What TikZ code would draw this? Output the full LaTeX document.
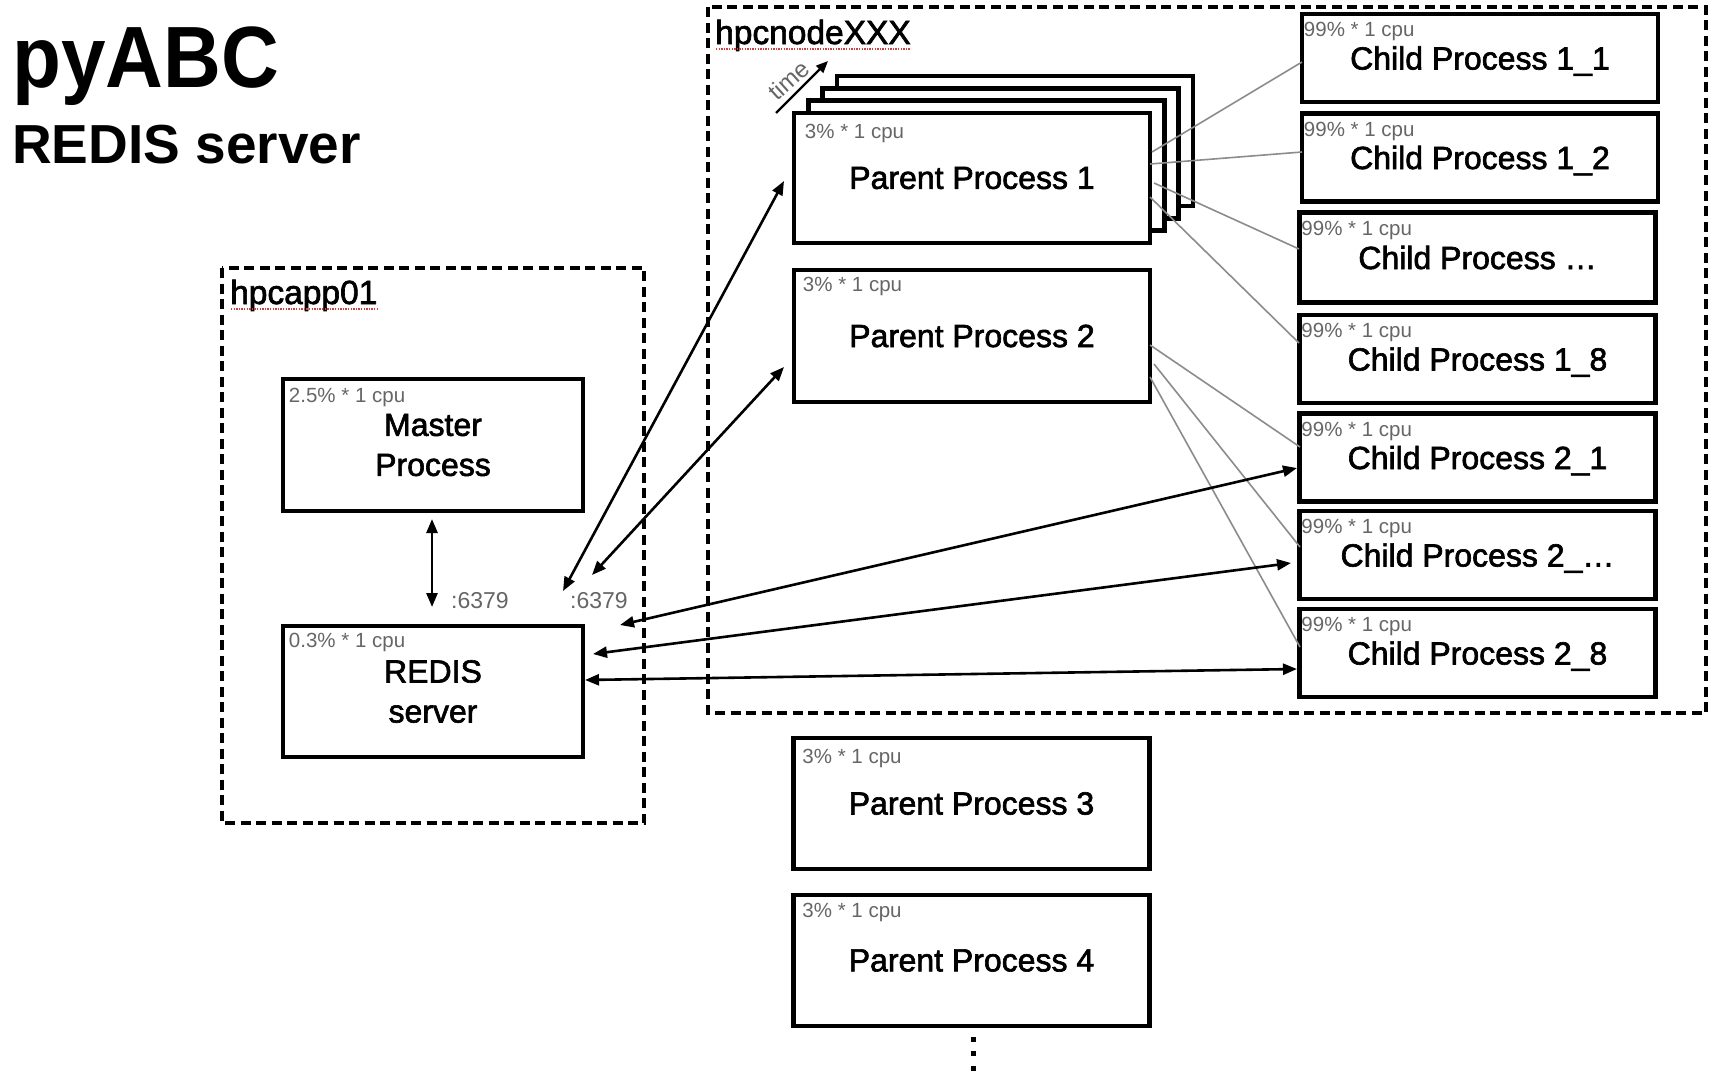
\documentclass[tikz,border=0pt]{standalone}
\usepackage{fontspec}
\setmainfont{Liberation Sans}
\newfontfamily\medfont[FakeBold=2]{Liberation Sans}
\usetikzlibrary{arrows.meta,calc}
\definecolor{lblgray}{HTML}{666666}
\definecolor{lingray}{HTML}{8C8C8C}
\definecolor{spellred}{HTML}{D04040}
\tikzset{
  procbox/.style={draw, line width=4.5pt, fill=white, inner sep=0pt,
    minimum width=356pt, align=center, font=\medfont\fontsize{32}{40}\selectfont},
  parentbox/.style={procbox, minimum height=130pt},
  childbox/.style={procbox, minimum height=88pt, text height=23pt, text depth=0pt},
  cpulbl/.style={anchor=base west, inner sep=0pt, text=lblgray, font=\fontsize{20.5}{22}\selectfont},
  portlbl/.style={anchor=base west, inner sep=0pt, text=lblgray, font=\fontsize{23}{24}\selectfont},
  hostlbl/.style={anchor=base west, inner sep=0pt, font=\medfont\fontsize{33.5}{36}\selectfont},
  hostframe/.style={line width=4.5pt, dash pattern=on 10pt off 5.5pt},
  spell/.style={spellred, line width=1.3pt, dash pattern=on 1.3pt off 1.3pt},
  link/.style={line width=2.6pt, {Triangle[length=14pt,width=11pt]}-{Triangle[length=14pt,width=11pt]}},
  onelink/.style={line width=2.2pt, -{Triangle[length=12pt,width=10pt]}},
  forkline/.style={lingray, line width=1.6pt},
}
\begin{document}
\begin{tikzpicture}[x=1pt,y=-1pt]
\useasboundingbox (0,0) rectangle (1716,1080);
\fill[white] (0,0) rectangle (1716,1080);

% titles
\node[anchor=base west, inner sep=0pt, font=\bfseries\fontsize{87}{87}\selectfont] (title) at (12,87) {\scalebox{0.92}[1]{pyABC}};
\node[anchor=base west, inner sep=0pt, font=\bfseries\fontsize{55}{55}\selectfont] (subtitle) at (12,163) {REDIS server};

% host frames
\draw[hostframe] (222,268) rectangle (644,823);
\draw[hostframe] (708,7) rectangle (1706,713);
\node[hostlbl] (happ) at (230,304) {hpcapp01};
\draw[spell] (231,309) -- (378,309);
\node[hostlbl] (hnode) at (715,44) {hpcnodeXXX};
\draw[spell] (716,49) -- (910,49);

% master / redis
\node[procbox, minimum width=300pt, minimum height=132pt] (master) at (433,445) {Master\\Process};
\node[cpulbl] (mastercpu) at ($(master.north west)+(8,26)$) {2.5\% * 1 cpu};
\node[procbox, minimum width=300pt, minimum height=131pt] (redis) at (433,691.5) {REDIS\\server};
\node[cpulbl] (rediscpu) at ($(redis.north west)+(8,24)$) {0.3\% * 1 cpu};

% parent process 1 stack
\foreach \k in {3,2,1} {
  \node[parentbox] (p1b\k) at ({972+14.3*\k},{178-12.3*\k}) {};
}
\node[parentbox] (p1) at (972,178) {Parent Process 1};
\node[cpulbl] (p1cpu) at ($(p1.north west)+(13,28)$) {3\% * 1 cpu};

\node[parentbox, minimum height=132pt] (p2) at (972,336) {Parent Process 2};
\node[cpulbl] (p2cpu) at ($(p2.north west)+(11,24)$) {3\% * 1 cpu};

\node[parentbox, minimum height=131pt] (p3) at (971.5,803.5) {Parent Process 3};
\node[cpulbl] (p3cpu) at ($(p3.north west)+(11,28)$) {3\% * 1 cpu};

\node[parentbox, minimum height=131pt] (p4) at (971.5,960.5) {Parent Process 4};
\node[cpulbl] (p4cpu) at ($(p4.north west)+(11,25)$) {3\% * 1 cpu};

\foreach \yy [count=\i] in {1039,1053.5,1068} {
  \fill (970.5,{\yy-2.5}) rectangle (975.5,{\yy+2.5});
}

% time arrow
\coordinate (t0) at (776,113);
\coordinate (t1) at (828,61);
\draw[onelink] (t0) -- (t1);
\node[text=lblgray, font=\fontsize{24}{24}\selectfont, rotate=42, inner sep=0pt] (timelbl) at (789,80) {time};

% child processes
\node[childbox] (c11) at (1480,58) {Child Process 1\_1};
\node[childbox] (c12) at (1480,157.5) {Child Process 1\_2};
\node[childbox, minimum height=90pt] (c1d) at (1477.5,257.5) {Child Process …};
\node[childbox] (c18) at (1477.5,359) {Child Process 1\_8};
\node[childbox] (c21) at (1477.5,457.5) {Child Process 2\_1};
\node[childbox] (c2d) at (1477.5,555) {Child Process 2\_…};
\node[childbox] (c28) at (1477.5,653) {Child Process 2\_8};
\foreach \c in {c11,c12,c1d,c18,c21,c2d,c28} {
  \node[cpulbl] at ($(\c.north west)+(4,25)$) {99\% * 1 cpu};
}

% fork lines
\coordinate (f1s) at (1152,152); \coordinate (f1e) at (1302,62);
\coordinate (f2s) at (1150,164); \coordinate (f2e) at (1302,152);
\coordinate (f3s) at (1154,183); \coordinate (f3e) at (1299,249);
\coordinate (f4s) at (1150,197); \coordinate (f4e) at (1299,343);
\coordinate (f5s) at (1150,345); \coordinate (f5e) at (1300,447);
\coordinate (f6s) at (1154,364); \coordinate (f6e) at (1300,547);
\coordinate (f7s) at (1150,377); \coordinate (f7e) at (1300,647);
\foreach \i in {1,...,7} { \draw[forkline] (f\i s) -- (f\i e); }

% redis links
\coordinate (a1s) at (563,591); \coordinate (a1e) at (784,181);
\coordinate (a2s) at (592,575); \coordinate (a2e) at (784,367);
\coordinate (a3s) at (620,625); \coordinate (a3e) at (1297,468);
\coordinate (a4s) at (593,654); \coordinate (a4e) at (1291,563);
\coordinate (a5s) at (585,680); \coordinate (a5e) at (1297,669);
\foreach \i in {1,...,5} { \draw[link] (a\i s) -- (a\i e); }

\coordinate (ms) at (432,519); \coordinate (me) at (432,607);
\draw[link] (ms) -- (me);

\node[portlbl] (port1) at (451,608) {:6379};
\node[portlbl] (port2) at (570,608) {:6379};
\end{tikzpicture}
\end{document}
